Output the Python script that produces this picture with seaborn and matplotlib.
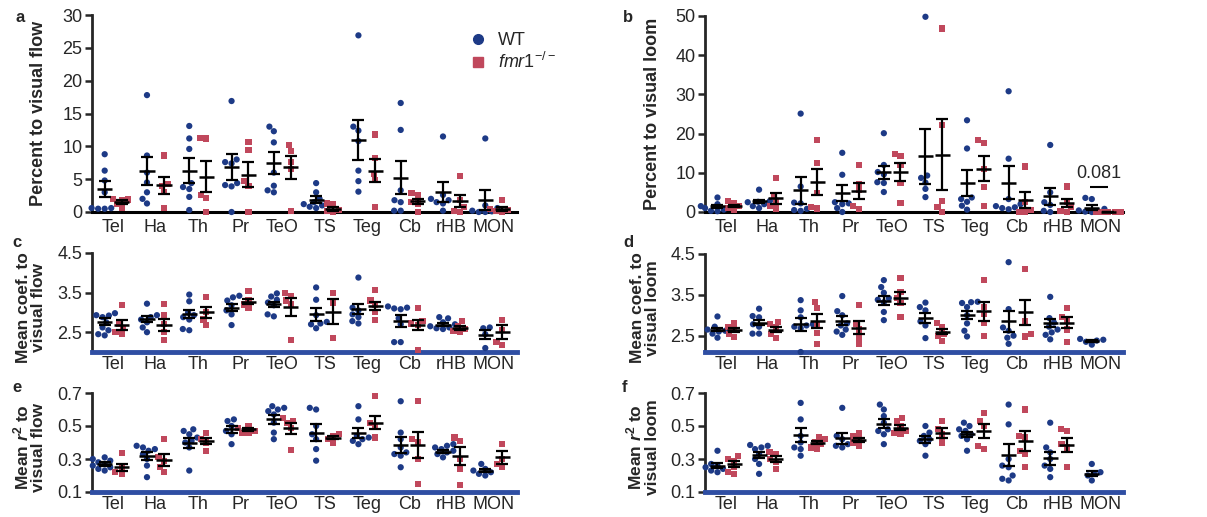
import numpy as np
import pandas as pd
import matplotlib
matplotlib.use("Agg")
import matplotlib.pyplot as plt
from matplotlib.lines import Line2D
import seaborn as sns
import warnings

warnings.filterwarnings("ignore")

regions = ['Tel', 'Ha', 'Th', 'Pr', 'TeO', 'TS', 'Teg', 'Cb', 'rHB', 'MON']
nan = np.nan

# a: percent to visual flow
a_wt = [[8.8, 6.3, 4.8, 3.0, 0.6, 0.6, 0.5, 0.5],
        [17.8, 8.6, 6.0, 4.5, 3.0, 2.0, 1.3],
        [13.1, 11.2, 9.6, 4.4, 3.8, 3.5, 2.3, 0.3],
        [16.9, 8.0, 7.6, 7.4, 4.4, 4.1, 3.9, 0.0],
        [13.0, 12.3, 10.6, 6.0, 4.0, 3.3, 3.0],
        [4.4, 3.0, 2.0, 1.5, 1.2, 1.0, 0.8, 0.6],
        [26.9, 13.0, 12.4, 10.8, 6.3, 4.7, 3.1],
        [16.6, 12.5, 3.3, 1.8, 1.5, 0.2, 0.2],
        [11.5, 2.6, 2.0, 1.8, 1.5, 1.3, 0.2],
        [11.2, 1.0, 0.6, 0.2, 0.1, 0.0, 0.0]]
a_ko = [[2.0, 1.9, 1.8, 1.2, 0.6],
        [8.6, 4.3, 4.0, 3.1, 0.6],
        [11.3, 11.2, 2.6, 2.1, 0.0],
        [10.7, 9.4, 4.7, 4.0, 0.0],
        [10.2, 9.3, 7.6, 6.5, 0.2],
        [1.3, 1.2, 0.3, 0.1, 0.0],
        [11.8, 8.2, 5.8, 4.9, 0.7],
        [2.9, 2.6, 1.5, 1.3, 0.0],
        [5.5, 1.8, 0.7, 0.2, 0.0],
        [1.8, 0.4, 0.3, 0.1, 0.0]]
a_wt_mean = [3.5, 6.2, 6.3, 6.9, 7.5, 1.9, 11.0, 5.2, 3.0, 1.8]
a_wt_sem = [1.2, 2.1, 1.9, 2.0, 1.65, 0.55, 3.05, 2.5, 1.5, 1.55]
a_ko_mean = [1.5, 4.1, 5.4, 5.7, 6.8, 0.5, 6.3, 1.6, 1.7, 0.4]
a_ko_sem = [0.3, 1.3, 2.4, 1.9, 1.7, 0.3, 1.8, 0.45, 0.95, 0.3]

# b: percent to visual loom
b_wt = [[3.7, 2.0, 1.5, 1.2, 1.0, 0.6, 0.3, 0.2],
        [5.7, 3.0, 2.8, 2.6, 2.5, 2.0, 1.5, 1.0],
        [25.1, 6.5, 2.4, 2.2, 0.8, 0.5, 0.3],
        [15.1, 9.5, 2.5, 2.2, 2.0, 1.0, 0.0],
        [20.1, 12.0, 10.2, 9.6, 7.6, 7.4, 5.1],
        [49.8, 9.3, 8.7, 7.5, 5.9, 3.8],
        [23.4, 16.2, 3.7, 3.3, 2.6, 1.6, 0.6],
        [30.8, 13.6, 3.3, 2.0, 1.5, 1.2, 1.0, 0.7],
        [17.1, 5.0, 2.5, 1.8, 0.3, 0.0],
        [3.6, 3.3, 0.8, 0.4, 0.2, 0.1, 0.0]]
b_ko = [[2.9, 2.4, 1.5, 1.0, 0.5],
        [8.6, 4.0, 2.5, 1.5, 0.9],
        [18.3, 12.6, 4.9, 1.3, 0.9],
        [11.9, 7.2, 5.5, 1.6, 0.8],
        [14.9, 14.2, 12.0, 7.4, 2.3],
        [46.8, 22.2, 2.8, 1.2, 0.1],
        [18.4, 17.5, 11.0, 6.4, 1.5],
        [11.6, 2.5, 0.5, 0.1, 0.0],
        [6.5, 2.5, 1.2, 0.3, 0.0],
        [0.0, 0.0, 0.0, 0.0, 0.0]]
b_wt_mean = [1.5, 2.7, 5.5, 4.8, 10.1, 14.2, 7.3, 7.5, 4.0, 1.1]
b_wt_sem = [0.4, 0.4, 3.35, 2.0, 1.75, 7.05, 3.3, 4.2, 2.1, 0.6]
b_ko_mean = [1.6, 3.5, 7.6, 5.4, 10.2, 14.6, 11.0, 3.0, 2.3, 0.0]
b_ko_sem = [0.3, 1.45, 3.3, 2.0, 2.3, 9.0, 3.2, 2.1, 1.0, 0.0]

# c: mean coef. to visual flow
c_wt = [[2.98, 2.93, 2.92, 2.88, 2.75, 2.62, 2.55, 2.45, 2.42],
        [3.22, 2.93, 2.88, 2.82, 2.75, 2.62, 2.5],
        [3.45, 3.28, 3.0, 2.93, 2.88, 2.82, 2.58, 2.55],
        [3.42, 3.38, 3.3, 3.18, 3.05, 2.95, 2.68],
        [3.48, 3.4, 3.32, 3.25, 3.18, 2.95, 2.9],
        [3.63, 3.32, 2.93, 2.76, 2.72, 2.7, 2.6],
        [3.88, 3.12, 3.05, 2.95, 2.88, 2.78, 2.72],
        [3.15, 3.12, 3.1, 3.08, 2.85, 2.7, 2.25, 2.25],
        [2.88, 2.85, 2.75, 2.7, 2.65, 2.62, 2.6, 2.58],
        [2.62, 2.6, 2.45, 2.1]]
c_ko = [[3.18, 2.72, 2.6, 2.5, 2.45],
        [3.22, 2.93, 2.7, 2.5, 2.3],
        [3.38, 3.02, 2.82, 2.68],
        [3.55, 3.3, 3.2, 3.1],
        [3.48, 3.42, 3.3, 3.2, 2.3],
        [3.48, 3.25, 2.35],
        [3.57, 3.3, 3.2, 3.0, 2.8],
        [3.1, 2.78, 2.72, 2.68, 2.05],
        [2.78, 2.65, 2.58, 2.52, 2.5],
        [2.8, 2.55, 2.25, 2.18]]
c_wt_mean = [2.77, 2.83, 2.95, 3.12, 3.2, 2.95, 3.09, 2.78, 2.69, 2.44]
c_wt_sem = [0.08, 0.07, 0.1, 0.08, 0.06, 0.17, 0.12, 0.15, 0.04, 0.12]
c_ko_mean = [2.68, 2.68, 3.0, 3.27, 3.14, 3.02, 3.17, 2.68, 2.6, 2.5]
c_ko_sem = [0.12, 0.15, 0.13, 0.07, 0.22, 0.32, 0.1, 0.13, 0.05, 0.17]

# d: mean coef. to visual loom
d_wt = [[2.97, 2.72, 2.68, 2.65, 2.62, 2.6, 2.55, 2.45],
        [3.16, 2.98, 2.95, 2.78, 2.72, 2.55, 2.55],
        [3.37, 3.12, 2.95, 2.78, 2.75, 2.72, 2.68, 2.1],
        [3.47, 3.1, 3.0, 2.8, 2.75, 2.65, 2.6, 2.52],
        [3.86, 3.69, 3.55, 3.42, 3.38, 3.32, 3.08, 2.88],
        [3.31, 3.2, 3.12, 2.85, 2.75, 2.44],
        [3.33, 3.32, 3.3, 3.2, 3.0, 2.8, 2.62, 2.48],
        [4.3, 3.15, 2.7, 2.62, 2.5, 2.45, 2.3],
        [3.45, 2.93, 2.82, 2.72, 2.65, 2.58, 2.52, 2.41],
        [2.42, 2.4, 2.38, 2.35, 2.28]]
d_ko = [[2.8, 2.72, 2.65, 2.55, 2.47],
        [2.84, 2.78, 2.7, 2.55, 2.44],
        [3.32, 3.18, 2.79, 2.57, 2.3],
        [3.25, 2.78, 2.65, 2.45, 2.3],
        [3.92, 3.57, 3.42, 3.3, 2.96],
        [2.8, 2.7, 2.55, 2.5, 2.38],
        [3.86, 3.2, 3.02, 2.8, 2.49],
        [4.13, 2.86, 2.55, 2.48],
        [3.17, 2.95, 2.85, 2.65, 2.35],
        []]
d_wt_mean = [2.65, 2.82, 2.78, 2.87, 3.36, 2.93, 3.0, 2.85, 2.81, 2.37]
d_wt_sem = [0.04, 0.07, 0.16, 0.1, 0.1, 0.13, 0.1, 0.26, 0.1, 0.02]
d_ko_mean = [2.64, 2.65, 2.86, 2.7, 3.42, 2.6, 3.1, 3.07, 2.82, nan]
d_ko_sem = [0.05, 0.06, 0.18, 0.16, 0.14, 0.07, 0.23, 0.3, 0.13, nan]

# e: mean r2 to visual flow
e_wt = [[0.31, 0.30, 0.29, 0.28, 0.27, 0.26, 0.25, 0.24, 0.23],
        [0.38, 0.37, 0.36, 0.35, 0.33, 0.3, 0.26, 0.19],
        [0.48, 0.47, 0.45, 0.43, 0.41, 0.4, 0.37, 0.23],
        [0.54, 0.53, 0.5, 0.47, 0.45, 0.39],
        [0.62, 0.61, 0.6, 0.59, 0.57, 0.52, 0.46, 0.42],
        [0.61, 0.6, 0.5, 0.45, 0.42, 0.36, 0.29],
        [0.62, 0.54, 0.44, 0.43, 0.42, 0.41, 0.39],
        [0.65, 0.46, 0.42, 0.37, 0.34, 0.33, 0.32, 0.25],
        [0.39, 0.38, 0.37, 0.36, 0.35, 0.34, 0.33, 0.31],
        [0.27, 0.24, 0.23, 0.22, 0.21, 0.2]]
e_ko = [[0.335, 0.25, 0.22, 0.21],
        [0.42, 0.31, 0.29, 0.25, 0.22],
        [0.46, 0.42, 0.4, 0.35],
        [0.5, 0.49, 0.47, 0.46, 0.46],
        [0.55, 0.53, 0.52, 0.49, 0.355],
        [0.45, 0.44, 0.42, 0.4],
        [0.68, 0.52, 0.5, 0.43],
        [0.65, 0.42, 0.4, 0.3, 0.15],
        [0.43, 0.41, 0.3, 0.24, 0.14],
        [0.39, 0.3, 0.27, 0.25]]
e_wt_mean = [0.27, 0.32, 0.395, 0.48, 0.54, 0.46, 0.46, 0.385, 0.345, 0.23]
e_wt_sem = [0.01, 0.025, 0.03, 0.02, 0.025, 0.05, 0.03, 0.05, 0.01, 0.01]
e_ko_mean = [0.25, 0.295, 0.41, 0.48, 0.485, 0.43, 0.52, 0.385, 0.32, 0.31]
e_ko_sem = [0.02, 0.035, 0.02, 0.01, 0.035, 0.01, 0.04, 0.08, 0.055, 0.04]

# f: mean r2 to visual loom
f_wt = [[0.35, 0.27, 0.26, 0.25, 0.24, 0.23, 0.22],
        [0.385, 0.38, 0.37, 0.36, 0.33, 0.3, 0.27, 0.21],
        [0.64, 0.54, 0.44, 0.4, 0.37, 0.36, 0.32],
        [0.61, 0.44, 0.42, 0.39, 0.38, 0.37],
        [0.63, 0.6, 0.56, 0.52, 0.48, 0.47, 0.45, 0.39],
        [0.5, 0.46, 0.44, 0.42, 0.41, 0.39, 0.32],
        [0.52, 0.5, 0.48, 0.47, 0.45, 0.44, 0.42, 0.35],
        [0.63, 0.51, 0.3, 0.26, 0.25, 0.2, 0.18, 0.17],
        [0.52, 0.37, 0.34, 0.3, 0.26, 0.24, 0.19],
        [0.27, 0.22, 0.21, 0.2, 0.17]]
f_ko = [[0.32, 0.3, 0.29, 0.25, 0.22, 0.21],
        [0.34, 0.33, 0.3, 0.28, 0.24],
        [0.43, 0.42, 0.4, 0.39, 0.37, 0.36],
        [0.46, 0.44, 0.42, 0.4, 0.38],
        [0.55, 0.53, 0.5, 0.47, 0.46, 0.45],
        [0.53, 0.48, 0.45, 0.4],
        [0.58, 0.53, 0.5, 0.38, 0.36],
        [0.6, 0.44, 0.43, 0.35, 0.33, 0.25],
        [0.48, 0.47, 0.39, 0.37, 0.25],
        []]
f_wt_mean = [0.26, 0.325, 0.445, 0.425, 0.515, 0.42, 0.45, 0.325, 0.305, 0.21]
f_wt_sem = [0.013, 0.02, 0.04, 0.035, 0.03, 0.02, 0.015, 0.065, 0.04, 0.015]
f_ko_mean = [0.27, 0.3, 0.4, 0.415, 0.49, 0.455, 0.47, 0.41, 0.385, nan]
f_ko_sem = [0.02, 0.017, 0.01, 0.01, 0.015, 0.03, 0.04, 0.06, 0.04, nan]

WT_COL = '#1d3a86'
KO_COL = '#c0485c'
AXIS_BLUE = '#2f4ea3'
genos = ['WT', 'fmr1']

sns.set_style('ticks')
plt.rcParams['font.family'] = ['Liberation Sans', 'DejaVu Sans']
plt.rcParams['mathtext.fontset'] = 'custom'
plt.rcParams['mathtext.rm'] = 'Liberation Sans'
plt.rcParams['mathtext.it'] = 'Liberation Sans:italic'
plt.rcParams['mathtext.bf'] = 'Liberation Sans:bold'
plt.rcParams['mathtext.bfit'] = 'Liberation Sans:bold:italic'


def long_df(wt, ko):
    rows = []
    for reg, vals in zip(regions, wt):
        rows += [(reg, 'WT', v) for v in vals]
    for reg, vals in zip(regions, ko):
        rows += [(reg, 'fmr1', v) for v in vals]
    return pd.DataFrame(rows, columns=['region', 'geno', 'value'])


def panel(ax, wt, ko, wt_mean, wt_sem, ko_mean, ko_sem, ylim, yticks, ylabel, top_row):
    df = long_df(wt, ko)
    pal = {'WT': WT_COL, 'fmr1': KO_COL}
    sns.swarmplot(data=df[df.geno == 'WT'], x='region', y='value', hue='geno',
                  order=regions, hue_order=genos, palette=pal, dodge=True,
                  marker='o', size=4.5, legend=False, ax=ax, clip_on=False, zorder=3)
    sns.swarmplot(data=df[df.geno == 'fmr1'], x='region', y='value', hue='geno',
                  order=regions, hue_order=genos, palette=pal, dodge=True,
                  marker='s', size=4.4, legend=False, ax=ax, clip_on=False, zorder=3)
    pos = np.arange(len(regions))
    for off, m, s in [(-0.2, wt_mean, wt_sem), (0.2, ko_mean, ko_sem)]:
        m = np.array(m, dtype=float)
        s = np.array(s, dtype=float)
        ax.errorbar(pos + off, m, yerr=s, fmt='none', ecolor='black',
                    elinewidth=1.6, capsize=4.5, capthick=1.6, zorder=4, clip_on=False)
        ax.hlines(m, pos + off - 0.18, pos + off + 0.18, color='black', lw=1.8, zorder=4,
                  clip_on=False)
    ax.set_xlim(-0.5, 9.55)
    ax.set_ylim(*ylim)
    ax.set_yticks(yticks)
    ax.set_xlabel('')
    ax.set_ylabel(ylabel, fontsize=13 if top_row else 12.5, fontweight='bold',
                  linespacing=1.0)
    sns.despine(ax=ax)
    ax.spines['left'].set_linewidth(2)
    ax.tick_params(axis='y', width=1.8, length=5, labelsize=13, pad=2)
    if top_row:
        ax.tick_params(axis='x', length=0, labelsize=13, pad=5)
        ax.spines['bottom'].set_linewidth(2.2)
        ax.spines['bottom'].set_color('black')
    else:
        ax.tick_params(axis='x', length=0, labelsize=13, pad=3)
        ax.spines['bottom'].set_linewidth(3.5)
        ax.spines['bottom'].set_color(AXIS_BLUE)


fig = plt.figure(figsize=(12.07, 5.17), dpi=100)
W, H = 1207, 517


def rect(x0, x1, y_top, y_bot):
    return [x0 / W, 1 - y_bot / H, (x1 - x0) / W, (y_bot - y_top) / H]


ax_a = fig.add_axes(rect(92, 517, 15, 212))
ax_b = fig.add_axes(rect(705, 1123, 16, 212))
ax_c = fig.add_axes(rect(92, 517, 253, 352))
ax_d = fig.add_axes(rect(705, 1123, 254, 352))
ax_e = fig.add_axes(rect(92, 517, 393, 492))
ax_f = fig.add_axes(rect(705, 1123, 393, 492))

panel(ax_a, a_wt, a_ko, a_wt_mean, a_wt_sem, a_ko_mean, a_ko_sem,
      (0, 30), [0, 5, 10, 15, 20, 25, 30], 'Percent to visual flow', True)
panel(ax_b, b_wt, b_ko, b_wt_mean, b_wt_sem, b_ko_mean, b_ko_sem,
      (0, 50), [0, 10, 20, 30, 40, 50], 'Percent to visual loom', True)
panel(ax_c, c_wt, c_ko, c_wt_mean, c_wt_sem, c_ko_mean, c_ko_sem,
      (2.0, 4.5), [2.5, 3.5, 4.5], 'Mean coef. to\nvisual flow', False)
panel(ax_d, d_wt, d_ko, d_wt_mean, d_wt_sem, d_ko_mean, d_ko_sem,
      (2.1, 4.5), [2.5, 3.5, 4.5], 'Mean coef. to\nvisual loom', False)
panel(ax_e, e_wt, e_ko, e_wt_mean, e_wt_sem, e_ko_mean, e_ko_sem,
      (0.1, 0.7), [0.1, 0.3, 0.5, 0.7], 'Mean $\\mathbfit{r}^{\\mathbf{2}}$ to\nvisual flow', False)
panel(ax_f, f_wt, f_ko, f_wt_mean, f_wt_sem, f_ko_mean, f_ko_sem,
      (0.1, 0.7), [0.1, 0.3, 0.5, 0.7], 'Mean $\\mathbfit{r}^{\\mathbf{2}}$ to\nvisual loom', False)

for ax in (ax_a, ax_b):
    ax.yaxis.set_label_coords(-0.105, 0.5)
for ax in (ax_c, ax_d, ax_e, ax_f):
    ax.yaxis.set_label_coords(-0.108, 0.45)
    ax.set_yticklabels([f'{t:.1f}' for t in ax.get_yticks()])

# legend in panel a
handles = [Line2D([], [], marker='o', ls='none', color=WT_COL, markersize=7),
           Line2D([], [], marker='s', ls='none', color=KO_COL, markersize=6.5)]
ax_a.legend(handles, ['WT', '$\\mathit{fmr1}^{\\mathit{-/-}}$'], loc='upper left',
            bbox_to_anchor=(0.848, 0.95), frameon=False, fontsize=13,
            handletextpad=0.1, labelspacing=0.15, borderaxespad=0)

# p-value annotation over MON in panel b
ax_b.hlines(6.3, 9 - 0.25, 9 + 0.2, color='black', lw=1.5)
ax_b.text(9 - 0.03, 7.6, '0.081', ha='center', va='bottom', fontsize=13)

for lab, x, y in [('a', 15, 18), ('b', 623, 18), ('c', 12, 243),
                  ('d', 623, 243), ('e', 12, 387), ('f', 622, 387)]:
    fig.text(x / W, 1 - y / H, lab, fontsize=12, fontweight='bold', ha='left', va='center')

fig.savefig('out.png', dpi=100)
